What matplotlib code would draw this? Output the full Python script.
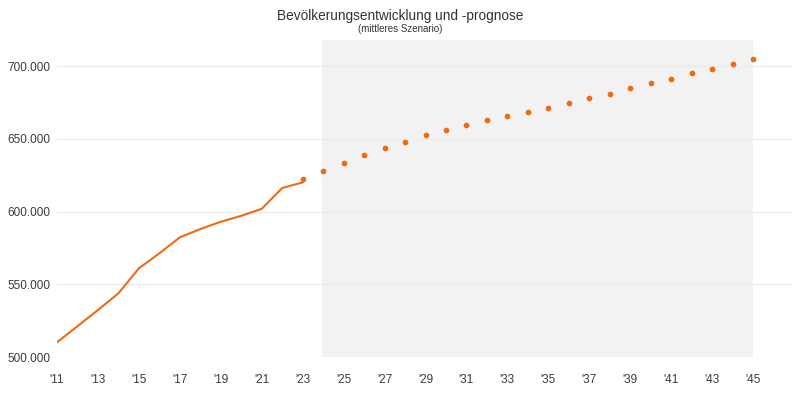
import matplotlib.pyplot as plt
from matplotlib.ticker import FuncFormatter

plt.rcParams['font.family'] = ['Liberation Sans', 'DejaVu Sans']

# Ist-Werte (Linie)
jahre_ist = [2011, 2012, 2013, 2014, 2015, 2016, 2017, 2018, 2019, 2020, 2021, 2022, 2023]
werte_ist = [510100, 521200, 532300, 543800, 561000, 571300, 582300, 588000, 593000, 597100, 601900, 616200, 620100]

# Prognose (Punkte)
jahre_prog = list(range(2023, 2046))
werte_prog = [622300, 628000, 633600, 638600, 643600, 648000, 652400, 656200, 659700, 662900,
              665700, 668600, 671200, 674600, 677800, 681200, 684700, 688100, 691500, 695000,
              698400, 701600, 705000]

prognose_start = 2024
prognose_ende = 2045

orange = '#ee6b12'

fig = plt.figure(figsize=(8, 4), dpi=100)
ax = fig.add_axes([57 / 800, 1 - 357 / 400, (792 - 57) / 800, (357 - 40) / 400])

ax.axvspan(prognose_start - 0.05, prognose_ende, ymin=0, ymax=1, color='#f2f2f2', lw=0, zorder=0)
ax.plot(jahre_ist, werte_ist, color=orange, lw=1.5, zorder=3)
ax.scatter(jahre_prog, werte_prog, color=orange, s=17, zorder=4, linewidths=0)

ax.set_xlim(2011, 2046.9)
ax.set_ylim(500000, 718000)
ax.set_xticks(range(2011, 2046, 2))
ax.xaxis.set_major_formatter(FuncFormatter(lambda v, p: "'%02d" % (int(v) % 100)))
ax.set_yticks([500000, 550000, 600000, 650000, 700000])
ax.yaxis.set_major_formatter(FuncFormatter(lambda v, p: '{:,.0f}'.format(v).replace(',', '.')))

ax.grid(axis='y', color='#ebebeb', lw=0.8, zorder=1)
ax.set_axisbelow(True)
for s in ax.spines.values():
    s.set_visible(False)
ax.tick_params(axis='both', length=0, labelsize=8.5, labelcolor='#3a3a3a')
ax.tick_params(axis='x', pad=12)
ax.tick_params(axis='y', pad=5)

fig.text(0.5, 1 - 16 / 400, 'Bevölkerungsentwicklung und -prognose', ha='center', va='center',
         fontsize=9.8, color='#333333')
fig.text(0.5, 1 - 29 / 400, '(mittleres Szenario)', ha='center', va='center',
         fontsize=7, color='#333333')

fig.savefig('out.png', dpi=100)
